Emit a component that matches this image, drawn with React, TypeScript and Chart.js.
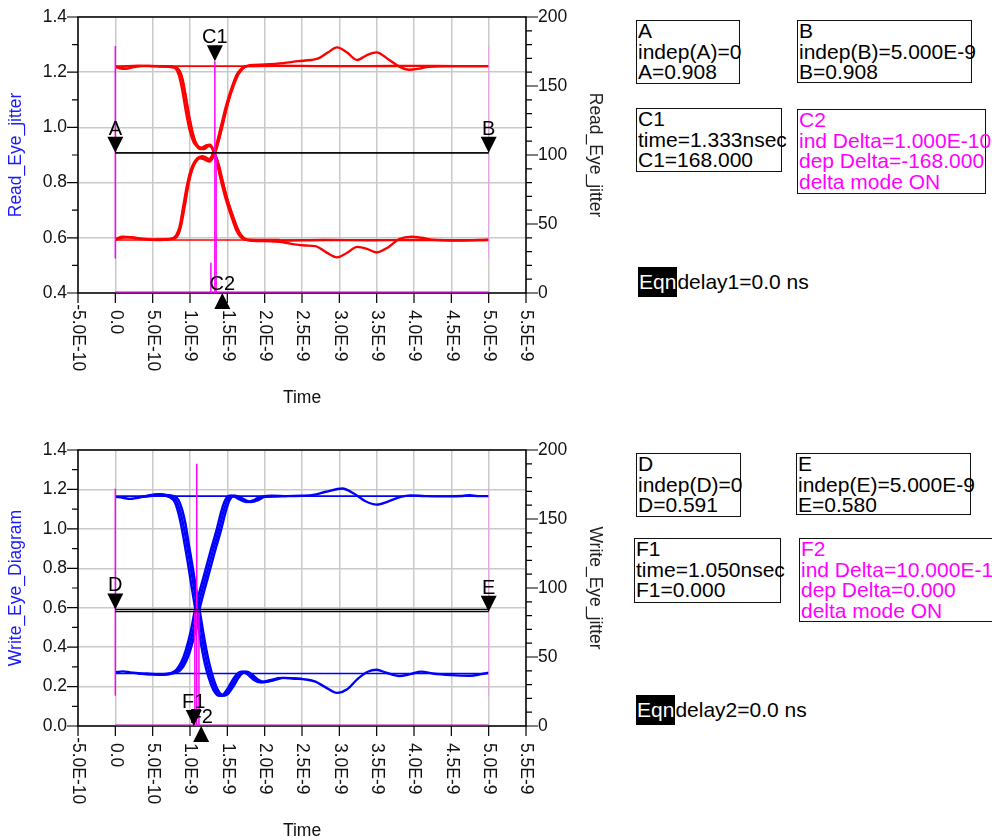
import React, { useEffect, useRef } from 'react';
import { Chart, registerables } from 'chart.js';

Chart.register(...registerables);

const FONT = '"Liberation Sans", Arial, Helvetica, sans-serif';

// ---------- axes ----------
const xTickValues = [-0.5, 0, 0.5, 1, 1.5, 2, 2.5, 3, 3.5, 4, 4.5, 5, 5.5];
const xTickLabels = ['-5.0E-10', '0.0', '5.0E-10', '1.0E-9', '1.5E-9', '2.0E-9', '2.5E-9', '3.0E-9', '3.5E-9', '4.0E-9', '4.5E-9', '5.0E-9', '5.5E-9'];
const readLeftTicks = [0.4, 0.6, 0.8, 1.0, 1.2, 1.4];
const readLeftLabels = ['0.4', '0.6', '0.8', '1.0', '1.2', '1.4'];
const writeLeftTicks = [0, 0.2, 0.4, 0.6, 0.8, 1.0, 1.2, 1.4];
const writeLeftLabels = ['0.0', '0.2', '0.4', '0.6', '0.8', '1.0', '1.2', '1.4'];
const rightTicks = [0, 50, 100, 150, 200];
const rightLabels = ['0', '50', '100', '150', '200'];

// ---------- Read eye (time in ns, volts) ----------
const readHigh = [[0, 1.222], [5, 1.222]];
const readLow = [[0, 0.592], [5, 0.592]];
const readFall1 = [[0, 1.222], [0.06, 1.214], [0.14, 1.212], [0.25, 1.219], [0.45, 1.223], [0.65, 1.222], [0.78, 1.219], [0.84, 1.212], [0.88, 1.19], [0.93, 1.13], [0.98, 1.05], [1.03, 0.985], [1.08, 0.94], [1.13, 0.922], [1.19, 0.922], [1.25, 0.932], [1.29, 0.928], [1.33, 0.906], [1.39, 0.86], [1.46, 0.78], [1.52, 0.72], [1.59, 0.665], [1.65, 0.622], [1.71, 0.6], [1.78, 0.592], [2.2, 0.59], [2.8, 0.592], [3.4, 0.591], [4, 0.592], [4.6, 0.591], [5, 0.592]];
const readFall2 = [[0, 1.218], [0.1, 1.22], [0.3, 1.224], [0.55, 1.221], [0.8, 1.217], [0.86, 1.205], [0.9, 1.175], [0.95, 1.1], [1.0, 1.025], [1.05, 0.965], [1.1, 0.935], [1.16, 0.926], [1.22, 0.935], [1.27, 0.937], [1.31, 0.92], [1.36, 0.885], [1.43, 0.81], [1.5, 0.74], [1.56, 0.69], [1.62, 0.645], [1.68, 0.612], [1.74, 0.596], [1.8, 0.59], [2.0, 0.588], [2.25, 0.584], [2.4, 0.576], [2.55, 0.572], [2.68, 0.57], [2.82, 0.548], [2.97, 0.529], [3.1, 0.545], [3.24, 0.567], [3.37, 0.56], [3.5, 0.547], [3.65, 0.565], [3.8, 0.595], [3.97, 0.604], [4.1, 0.6], [4.25, 0.593], [4.6, 0.59], [5, 0.593]];
const readFall3 = [[0.55, 1.222], [0.76, 1.22], [0.81, 1.212], [0.85, 1.19], [0.9, 1.13], [0.95, 1.05], [1.0, 0.985], [1.05, 0.945], [1.1, 0.93], [1.16, 0.925], [1.22, 0.935], [1.27, 0.935], [1.31, 0.915], [1.36, 0.87], [1.43, 0.79], [1.49, 0.73], [1.56, 0.672], [1.62, 0.627], [1.68, 0.602], [1.75, 0.593], [2.2, 0.592]];
const readRise1 = [[0, 0.592], [0.08, 0.6], [0.18, 0.602], [0.35, 0.595], [0.6, 0.592], [0.76, 0.596], [0.82, 0.603], [0.86, 0.625], [0.9, 0.68], [0.95, 0.76], [1.0, 0.825], [1.05, 0.865], [1.1, 0.888], [1.16, 0.896], [1.22, 0.89], [1.27, 0.884], [1.32, 0.903], [1.38, 0.95], [1.45, 1.03], [1.52, 1.1], [1.59, 1.155], [1.65, 1.195], [1.71, 1.215], [1.78, 1.222], [2.2, 1.224], [2.8, 1.222], [3.4, 1.222], [4, 1.223], [4.6, 1.222], [5, 1.222]];
const readRise2 = [[0, 0.596], [0.1, 0.604], [0.3, 0.599], [0.55, 0.594], [0.78, 0.598], [0.84, 0.612], [0.88, 0.645], [0.93, 0.715], [0.98, 0.795], [1.03, 0.848], [1.08, 0.876], [1.14, 0.889], [1.2, 0.884], [1.26, 0.876], [1.31, 0.892], [1.36, 0.928], [1.43, 1.0], [1.5, 1.08], [1.56, 1.14], [1.62, 1.18], [1.68, 1.205], [1.74, 1.22], [1.8, 1.225], [2.0, 1.228], [2.25, 1.233], [2.45, 1.24], [2.62, 1.244], [2.72, 1.25], [2.85, 1.272], [2.97, 1.29], [3.1, 1.272], [3.24, 1.244], [3.37, 1.262], [3.5, 1.272], [3.65, 1.248], [3.8, 1.221], [3.93, 1.209], [4.05, 1.212], [4.2, 1.22], [4.5, 1.222], [5, 1.222]];
const readRise3 = [[0.55, 0.593], [0.76, 0.597], [0.82, 0.612], [0.86, 0.64], [0.91, 0.715], [0.96, 0.79], [1.01, 0.845], [1.06, 0.875], [1.12, 0.89], [1.18, 0.886], [1.24, 0.88], [1.29, 0.895], [1.35, 0.935], [1.42, 1.01], [1.49, 1.085], [1.56, 1.145], [1.62, 1.188], [1.68, 1.21], [1.75, 1.222], [2.2, 1.223]];
const readJitterX = [1.28, 1.333, 1.35];
const readJitterH = [22, 168, 100];
const readEdge = [25, 179];

// ---------- Write eye ----------
const writeHigh = [[0, 1.166], [5, 1.166]];
const writeLow = [[0, 0.266], [5, 0.266]];
const writeFall1 = [[0, 1.162], [0.1, 1.158], [0.19, 1.152], [0.3, 1.158], [0.45, 1.17], [0.59, 1.176], [0.7, 1.17], [0.76, 1.162], [0.82, 1.14], [0.86, 1.1], [0.9, 1.04], [0.95, 0.94], [1.0, 0.83], [1.05, 0.71], [1.1, 0.596], [1.15, 0.48], [1.19, 0.39], [1.23, 0.315], [1.28, 0.245], [1.34, 0.185], [1.39, 0.158], [1.43, 0.153], [1.48, 0.162], [1.55, 0.2], [1.62, 0.245], [1.68, 0.27], [1.73, 0.276], [1.8, 0.262], [1.88, 0.235], [1.97, 0.222], [2.1, 0.232], [2.23, 0.244], [2.4, 0.24], [2.55, 0.236], [2.68, 0.225], [2.8, 0.2], [2.97, 0.168], [3.1, 0.185], [3.25, 0.24], [3.38, 0.275], [3.5, 0.285], [3.63, 0.27], [3.8, 0.254], [3.95, 0.263], [4.1, 0.276], [4.25, 0.266], [4.5, 0.258], [4.75, 0.255], [4.9, 0.263], [5, 0.27]];
const writeFall2 = [[0.3, 1.16], [0.5, 1.168], [0.65, 1.172], [0.76, 1.168], [0.82, 1.158], [0.86, 1.135], [0.9, 1.09], [0.94, 1.025], [0.98, 0.93], [1.03, 0.82], [1.08, 0.7], [1.13, 0.585], [1.18, 0.47], [1.22, 0.385], [1.26, 0.315], [1.31, 0.245], [1.37, 0.185], [1.42, 0.16], [1.46, 0.154], [1.51, 0.163], [1.58, 0.2], [1.65, 0.245], [1.71, 0.27], [1.76, 0.276], [1.83, 0.262], [1.91, 0.236], [2.0, 0.224], [2.13, 0.233], [2.26, 0.244], [2.5, 0.24]];
const writeFall3 = [[0.4, 1.165], [0.58, 1.174], [0.68, 1.168], [0.73, 1.16], [0.79, 1.14], [0.83, 1.1], [0.87, 1.04], [0.92, 0.94], [0.97, 0.83], [1.02, 0.71], [1.07, 0.596], [1.12, 0.48], [1.16, 0.39], [1.2, 0.315], [1.25, 0.245], [1.31, 0.185], [1.36, 0.158], [1.4, 0.153], [1.45, 0.162], [1.52, 0.2], [1.59, 0.245], [1.65, 0.27], [1.7, 0.276], [1.77, 0.262], [1.85, 0.235], [1.94, 0.222], [2.07, 0.232], [2.2, 0.244]];
const writeRise1 = [[0, 0.272], [0.1, 0.277], [0.2, 0.272], [0.35, 0.265], [0.5, 0.262], [0.63, 0.26], [0.72, 0.264], [0.78, 0.27], [0.85, 0.287], [0.92, 0.33], [0.97, 0.38], [1.04, 0.48], [1.1, 0.596], [1.2, 0.74], [1.3, 0.88], [1.39, 1.0], [1.45, 1.09], [1.5, 1.145], [1.56, 1.168], [1.63, 1.162], [1.7, 1.148], [1.79, 1.136], [1.88, 1.145], [1.97, 1.162], [2.1, 1.168], [2.3, 1.166], [2.5, 1.168], [2.65, 1.172], [2.82, 1.188], [3.04, 1.205], [3.2, 1.178], [3.35, 1.14], [3.5, 1.123], [3.65, 1.138], [3.82, 1.162], [3.95, 1.17], [4.15, 1.166], [4.45, 1.165], [4.65, 1.167], [4.75, 1.171], [4.85, 1.166], [5, 1.166]];
const writeRise2 = [[0.3, 0.266], [0.5, 0.263], [0.65, 0.262], [0.75, 0.265], [0.81, 0.27], [0.88, 0.287], [0.95, 0.33], [1.0, 0.38], [1.07, 0.48], [1.13, 0.596], [1.23, 0.74], [1.33, 0.88], [1.42, 1.0], [1.48, 1.09], [1.53, 1.145], [1.59, 1.168], [1.66, 1.162], [1.73, 1.148], [1.82, 1.136], [1.91, 1.145], [2.0, 1.162], [2.3, 1.166]];
const writeRise3 = [[0.4, 0.265], [0.6, 0.262], [0.7, 0.265], [0.75, 0.27], [0.82, 0.287], [0.89, 0.33], [0.94, 0.38], [1.01, 0.48], [1.07, 0.596], [1.17, 0.74], [1.27, 0.88], [1.36, 1.0], [1.42, 1.09], [1.47, 1.145], [1.53, 1.168], [1.6, 1.162], [1.67, 1.148], [1.76, 1.136], [1.85, 1.145], [1.94, 1.162], [2.2, 1.166]];
const writeJitterX = [1.065, 1.09, 1.12];
const writeJitterH = [84, 190, 84];
const writeEdge = [22, 172];

// ---------- markers ----------
const readMarkerNames = ['A', 'B', 'C1', 'C2'];
const readMarkerX = [0, 5, 1.333, 1.433];
const readMarkerY = [0.908, 0.908, 168, 0];
const readMarkerAxis = ['y', 'y', 'y2', 'y2'];
const readMarkerDir = ['down', 'down', 'down', 'up'];
const writeMarkerNames = ['D', 'E', 'F1', 'F2'];
const writeMarkerX = [0, 5, 1.05, 1.15];
const writeMarkerY = [0.591, 0.58, 0, 0];
const writeMarkerAxis = ['y', 'y', 'y2', 'y2'];
const writeMarkerDir = ['down', 'down', 'down', 'up'];

// ---------- readouts ----------
const boxA = ['A', 'indep(A)=0', 'A=0.908'];
const boxB = ['B', 'indep(B)=5.000E-9', 'B=0.908'];
const boxC1 = ['C1', 'time=1.333nsec', 'C1=168.000'];
const boxC2 = ['C2', 'ind Delta=1.000E-10', 'dep Delta=-168.000', 'delta mode ON'];
const boxD = ['D', 'indep(D)=0', 'D=0.591'];
const boxE = ['E', 'indep(E)=5.000E-9', 'E=0.580'];
const boxF1 = ['F1', 'time=1.050nsec', 'F1=0.000'];
const boxF2 = ['F2', 'ind Delta=10.000E-11', 'dep Delta=0.000', 'delta mode ON'];
const eqn1 = 'delay1=0.0 ns';
const eqn2 = 'delay2=0.0 ns';

type PlotCfg = {
  padTop: number;
  yMin: number; yMax: number;
  yTicks: number[]; yLabels: string[];
  leftTitle: string; rightTitle: string;
  color: string;
  flats: number[][][];
  traces: number[][][];
  jitterX: number[]; jitterH: number[]; edge: number[];
  mNames: string[]; mX: number[]; mY: number[]; mAxis: string[]; mDir: string[];
};

const readCfg: PlotCfg = {
  padTop: 17, yMin: 0.4, yMax: 1.4, yTicks: readLeftTicks, yLabels: readLeftLabels,
  leftTitle: 'Read_Eye_jitter', rightTitle: 'Read_Eye_jitter', color: '#ff0000',
  flats: [readHigh, readLow],
  traces: [readFall1, readFall2, readFall3, readRise1, readRise2, readRise3],
  jitterX: readJitterX, jitterH: readJitterH, edge: readEdge,
  mNames: readMarkerNames, mX: readMarkerX, mY: readMarkerY, mAxis: readMarkerAxis, mDir: readMarkerDir,
};
const writeCfg: PlotCfg = {
  padTop: 30, yMin: 0, yMax: 1.4, yTicks: writeLeftTicks, yLabels: writeLeftLabels,
  leftTitle: 'Write_Eye_Diagram', rightTitle: 'Write_Eye_jitter', color: '#0000ff',
  flats: [writeHigh, writeLow],
  traces: [writeFall1, writeFall2, writeFall3, writeRise1, writeRise2, writeRise3],
  jitterX: writeJitterX, jitterH: writeJitterH, edge: writeEdge,
  mNames: writeMarkerNames, mX: writeMarkerX, mY: writeMarkerY, mAxis: writeMarkerAxis, mDir: writeMarkerDir,
};

const CW = 620;
const CH = 420;
const AREA_H = 276;
const LEFT_W = 78;
const RIGHT_W = 94;

function seg(pts: number[][], color: string, width: number, axis: string, smooth: boolean) {
  return {
    data: pts.map(([x, y]) => ({ x, y })),
    borderColor: color,
    borderWidth: width,
    pointRadius: 0,
    fill: false,
    tension: smooth ? 0.4 : 0,
    cubicInterpolationMode: smooth ? 'monotone' : 'default',
    yAxisID: axis,
  };
}

function buildDatasets(p: PlotCfg) {
  const ds: any[] = [];
  p.jitterX.forEach((x, i) => ds.push(seg([[x, 0], [x, p.jitterH[i]]], '#ff00ff', 1.5, 'y2', false)));
  ds.push(seg([[0, p.edge[0]], [0, p.edge[1]]], '#ff00ff', 1.5, 'y2', false));
  ds.push(seg([[5, p.edge[0]], [5, p.edge[1]]], 'rgba(240,150,240,0.75)', 1, 'y2', false));
  ds.push(seg([[0, 0], [5, 0]], '#b010b0', 3, 'y2', false));
  p.flats.forEach((f) => ds.push(seg(f, p.color, 1.6, 'y', false)));
  p.traces.forEach((t) => ds.push(seg(t, p.color, 2.4, 'y', true)));
  return ds;
}

function decorPlugin(p: PlotCfg) {
  return {
    id: 'decor',
    beforeDatasetsDraw(chart: any) {
      const { ctx, chartArea: a, scales } = chart;
      const xs = scales.x, yl = scales.y, yr = scales.y2;
      ctx.save();
      ctx.strokeStyle = '#000';
      ctx.lineWidth = 1.5;
      ctx.strokeRect(a.left, a.top, a.right - a.left, a.bottom - a.top);
      ctx.lineWidth = 1.2;
      ctx.beginPath();
      const nMinor = Math.round((p.yMax - p.yMin) / 0.1);
      for (let k = 0; k <= nMinor; k++) {
        const y = yl.getPixelForValue(p.yMin + k * 0.1);
        const len = k % 2 === 0 ? 11 : 6;
        ctx.moveTo(a.left - len, y);
        ctx.lineTo(a.left, y);
      }
      for (let k = 0; k <= 20; k++) {
        const y = yr.getPixelForValue(k * 10);
        const len = k % 5 === 0 ? 12 : 6;
        ctx.moveTo(a.right, y);
        ctx.lineTo(a.right + len, y);
      }
      xTickValues.forEach((v) => {
        const x = xs.getPixelForValue(v);
        ctx.moveTo(x, a.bottom);
        ctx.lineTo(x, a.bottom + 10);
      });
      ctx.stroke();

      ctx.fillStyle = '#111';
      ctx.font = `17.5px ${FONT}`;
      ctx.textBaseline = 'middle';
      ctx.textAlign = 'right';
      p.yTicks.forEach((v, i) => ctx.fillText(p.yLabels[i], a.left - 11, yl.getPixelForValue(v)));
      ctx.textAlign = 'left';
      rightTicks.forEach((v, i) => ctx.fillText(rightLabels[i], a.right + 12, yr.getPixelForValue(v)));
      xTickValues.forEach((v, i) => {
        const lab = xTickLabels[i];
        const off = lab.startsWith('-') ? ctx.measureText('-').width : 0;
        ctx.save();
        ctx.translate(xs.getPixelForValue(v), a.bottom + 17 - off);
        ctx.rotate(Math.PI / 2);
        ctx.textAlign = 'left';
        ctx.fillText(lab, 0, 0);
        ctx.restore();
      });
      const midY = (a.top + a.bottom) / 2;
      ctx.textAlign = 'center';
      ctx.save();
      ctx.translate(16, midY);
      ctx.rotate(-Math.PI / 2);
      ctx.fillStyle = '#1a1aff';
      ctx.fillText(p.leftTitle, 0, 0);
      ctx.restore();
      ctx.save();
      ctx.translate(595, midY);
      ctx.rotate(Math.PI / 2);
      ctx.fillStyle = '#222';
      ctx.fillText(p.rightTitle, 0, 0);
      ctx.restore();
      ctx.fillText('Time', (a.left + a.right) / 2, a.bottom + 105);
      ctx.restore();
    },
    afterDatasetsDraw(chart: any) {
      const { ctx, scales } = chart;
      const px = (i: number) => scales.x.getPixelForValue(p.mX[i]);
      const py = (i: number) => scales[p.mAxis[i]].getPixelForValue(p.mY[i]);
      ctx.save();
      ctx.strokeStyle = '#000';
      ctx.lineWidth = 1.3;
      [0, 1].forEach((i) => {
        const y = py(i);
        ctx.beginPath();
        ctx.moveTo(px(0), y);
        ctx.lineTo(px(1), y);
        ctx.stroke();
      });
      ctx.fillStyle = '#000';
      ctx.font = `20px ${FONT}`;
      ctx.textAlign = 'center';
      ctx.textBaseline = 'alphabetic';
      p.mNames.forEach((n, i) => {
        const by = p.mDir[i] === 'down' ? py(i) - 18 : py(i) - 3;
        ctx.fillText(n, px(i), by);
      });
      p.mNames.forEach((_n, i) => {
        const x = px(i), y = py(i);
        const s = p.mDir[i] === 'down' ? -1 : 1;
        ctx.beginPath();
        ctx.moveTo(x, y);
        ctx.lineTo(x - 8, y + 16 * s);
        ctx.lineTo(x + 8, y + 16 * s);
        ctx.closePath();
        ctx.fill();
      });
      ctx.restore();
    },
  };
}

function EyeChart({ cfg, top }: { cfg: PlotCfg; top: number }) {
  const ref = useRef<HTMLCanvasElement>(null);
  useEffect(() => {
    const bottomH = CH - cfg.padTop - AREA_H;
    const grid = { color: '#c9c9c9', lineWidth: 1.5, drawTicks: false };
    const chart = new Chart(ref.current as HTMLCanvasElement, {
      type: 'line',
      data: { datasets: buildDatasets(cfg) as any },
      options: {
        responsive: false,
        animation: false,
        events: [],
        layout: { padding: { top: cfg.padTop, left: 0, right: 0, bottom: 0 } },
        plugins: { legend: { display: false }, tooltip: { enabled: false } },
        scales: {
          x: {
            type: 'linear', min: -0.5, max: 5.5,
            ticks: { stepSize: 0.5, display: false },
            grid, border: { display: false },
            afterFit: (s: any) => { s.height = bottomH; },
          },
          y: {
            type: 'linear', position: 'left', min: cfg.yMin, max: cfg.yMax,
            ticks: { stepSize: 0.2, display: false },
            grid, border: { display: false },
            afterFit: (s: any) => { s.width = LEFT_W; },
          },
          y2: {
            type: 'linear', position: 'right', min: 0, max: 200,
            ticks: { stepSize: 50, display: false },
            grid: { display: false, drawTicks: false }, border: { display: false },
            afterFit: (s: any) => { s.width = RIGHT_W; },
          },
        },
      } as any,
      plugins: [decorPlugin(cfg)],
    });
    return () => chart.destroy();
  }, [cfg]);
  return (
    <canvas
      ref={ref}
      width={CW}
      height={CH}
      style={{ position: 'absolute', left: 0, top, width: CW, height: CH }}
    />
  );
}

function Box({ left, top, width, height, lines, color = '#000' }: any) {
  return (
    <div
      style={{
        position: 'absolute', left, top, width, height, boxSizing: 'border-box',
        border: '1px solid #111', paddingLeft: 1, font: `21px ${FONT}`, lineHeight: '20.5px',
        color, whiteSpace: 'pre',
      }}
    >
      {lines.map((l: string, i: number) => <div key={i}>{l}</div>)}
    </div>
  );
}

function Eqn({ left, top, text }: any) {
  return (
    <div style={{ position: 'absolute', left, top, height: 30, font: `21px ${FONT}`, lineHeight: '30px', whiteSpace: 'pre', color: '#000' }}>
      <span style={{ display: 'inline-block', background: '#000', color: '#fff', height: 30, padding: '0 1px' }}>Eqn</span>
      {text}
    </div>
  );
}

export default function App() {
  return (
    <div style={{ position: 'absolute', left: 0, top: 0, width: 992, height: 840, overflow: 'hidden', background: '#fff', fontFamily: FONT }}>
      <EyeChart cfg={readCfg} top={0} />
      <EyeChart cfg={writeCfg} top={420} />
      <Box left={636} top={20} width={104} height={64} lines={boxA} />
      <Box left={797} top={20} width={175} height={63} lines={boxB} />
      <Box left={636} top={108} width={146} height={64} lines={boxC1} />
      <Box left={797} top={109} width={189} height={85} lines={boxC2} color="#ff00ff" />
      <Eqn left={638} top={267} text={eqn1} />
      <Box left={636} top={453} width={105} height={64} lines={boxD} />
      <Box left={796} top={453} width={175} height={62} lines={boxE} />
      <Box left={634} top={538} width={147} height={65} lines={boxF1} />
      <Box left={799} top={538} width={220} height={84} lines={boxF2} color="#ff00ff" />
      <Eqn left={636} top={695} text={eqn2} />
    </div>
  );
}
